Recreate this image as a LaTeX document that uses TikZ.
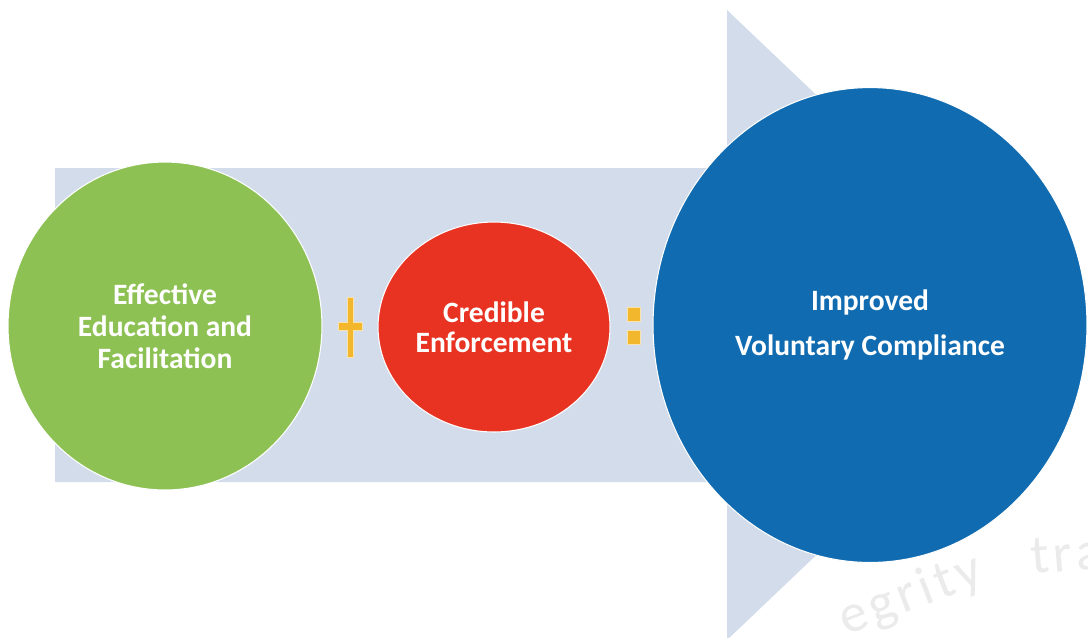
\documentclass[tikz,border=0pt]{standalone}
\usepackage{fontspec}
\setmainfont{Carlito}
\usetikzlibrary{shapes.geometric}

\definecolor{arrowblue}{HTML}{D2DCEB}
\definecolor{edugreen}{HTML}{8DC153}
\definecolor{enfred}{HTML}{E83323}
\definecolor{compblue}{HTML}{106BB0}
\definecolor{signyellow}{HTML}{F3B72D}

\begin{document}
\begin{tikzpicture}[x=0.02cm, y=-0.02cm,
	bubble/.style={ellipse, draw=white, line width=0.6pt, inner sep=0pt, align=center, text=white},
	sign/.style={fill=signyellow, draw=signyellow!40!white, line width=0.4pt},
	mark text/.style={text=black!8, inner sep=0pt, anchor=base west, font=\fontsize{31}{31}\selectfont\addfontfeature{LetterSpace=8}}]
	\useasboundingbox (0,0) rectangle (1088,637);
	\fill[white] (0,0) rectangle (1088,637);

	% Big arrow behind everything
	\fill[arrowblue] (55,168) -- (727,168) -- (727,10) -- (1058,325) -- (727,640) -- (727,482) -- (55,482) -- cycle;

	% faint watermark in the corner
	\begin{scope}
		\clip (0,0) rectangle (1088,637);
		\node[mark text, rotate=21] (W1) at (846,636) {egrity};
		\node[mark text, rotate=5] (W2) at (1032,574) {tra};
	\end{scope}

	% Define the three circles
	\node[bubble, fill=edugreen, minimum width=6.28cm, minimum height=6.56cm, font=\fontsize{16.8}{18.2}\selectfont\bfseries] (E) at (165,326) {Effective\\Education and\\Facilitation};
	\node[bubble, fill=enfred, minimum width=4.64cm, minimum height=4.2cm, font=\fontsize{16.8}{17}\selectfont\bfseries] (C) at (494,327) {Credible\\Enforcement};
	\node[bubble, fill=compblue, minimum width=8.68cm, minimum height=9.5cm, font=\fontsize{16.8}{26}\selectfont\bfseries] (V) at (870,325) {Improved\\Voluntary Compliance};

	% Plus and equals signs between them
	\draw[sign] (347,297) -- (353,297) -- (353,322) -- (362,322) -- (362,330) -- (353,330) -- (353,357) -- (347,357) -- (347,330) -- (338,330) -- (338,322) -- (347,322) -- cycle;
	\draw[sign] (627,307) rectangle (640,321);
	\draw[sign] (627,330) rectangle (640,344);
\end{tikzpicture}
\end{document}
